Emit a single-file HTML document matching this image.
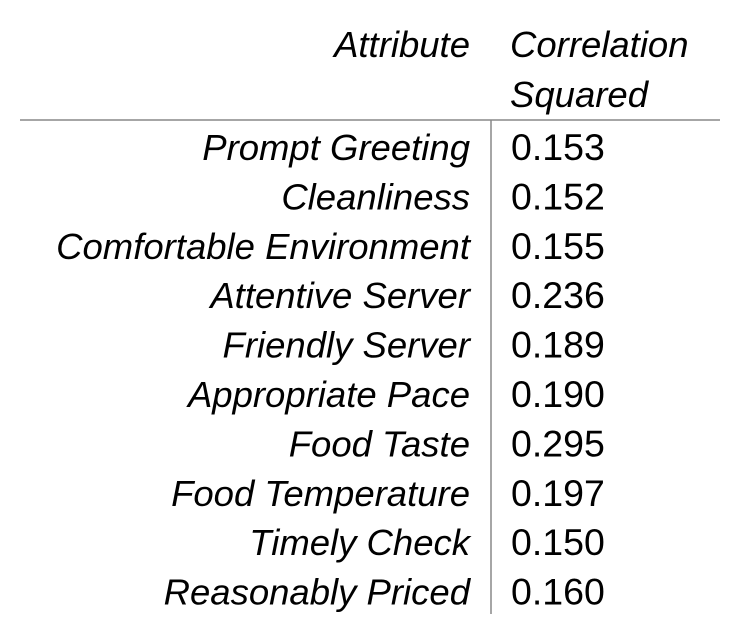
<!DOCTYPE html>
<html><head><meta charset="utf-8"><style>
html,body{margin:0;padding:0;background:#fff;}
svg{display:block;font-family:"Liberation Sans",sans-serif;}
</style></head><body>
<svg id="t" width="754" height="644" viewBox="0 0 754 644">
<text x="470" y="57" text-anchor="end" font-size="36.5" font-style="italic" fill="#000">Attribute</text>
<text x="510" y="57" font-size="36.5" font-style="italic" fill="#000">Correlation</text>
<text x="510" y="107" font-size="36.5" font-style="italic" fill="#000">Squared</text>
<line x1="20" y1="120" x2="720" y2="120" stroke="#888" stroke-width="1.5"/>
<line x1="491" y1="120" x2="491" y2="614" stroke="#888" stroke-width="1.5"/>
<g id="rows"></g>
</svg>
<script>
const attributes = ["Prompt Greeting","Cleanliness","Comfortable Environment","Attentive Server","Friendly Server","Appropriate Pace","Food Taste","Food Temperature","Timely Check","Reasonably Priced"];
const values = [0.153,0.152,0.155,0.236,0.189,0.190,0.295,0.197,0.150,0.160];
const g = document.getElementById('rows');
const NS = 'http://www.w3.org/2000/svg';
const rowY = i => 160 + i * 49.4;
attributes.forEach((a, i) => {
  const t = document.createElementNS(NS, 'text');
  t.setAttribute('x', 470); t.setAttribute('y', rowY(i));
  t.setAttribute('text-anchor', 'end'); t.setAttribute('font-size', '36.5');
  t.setAttribute('font-style', 'italic');
  
  
  t.textContent = a; g.appendChild(t);
  const v = document.createElementNS(NS, 'text');
  v.setAttribute('x', 511); v.setAttribute('y', rowY(i));
  v.setAttribute('font-size', '37.5');
  
  
  v.textContent = values[i].toFixed(3); g.appendChild(v);
});
</script>
</body></html>
